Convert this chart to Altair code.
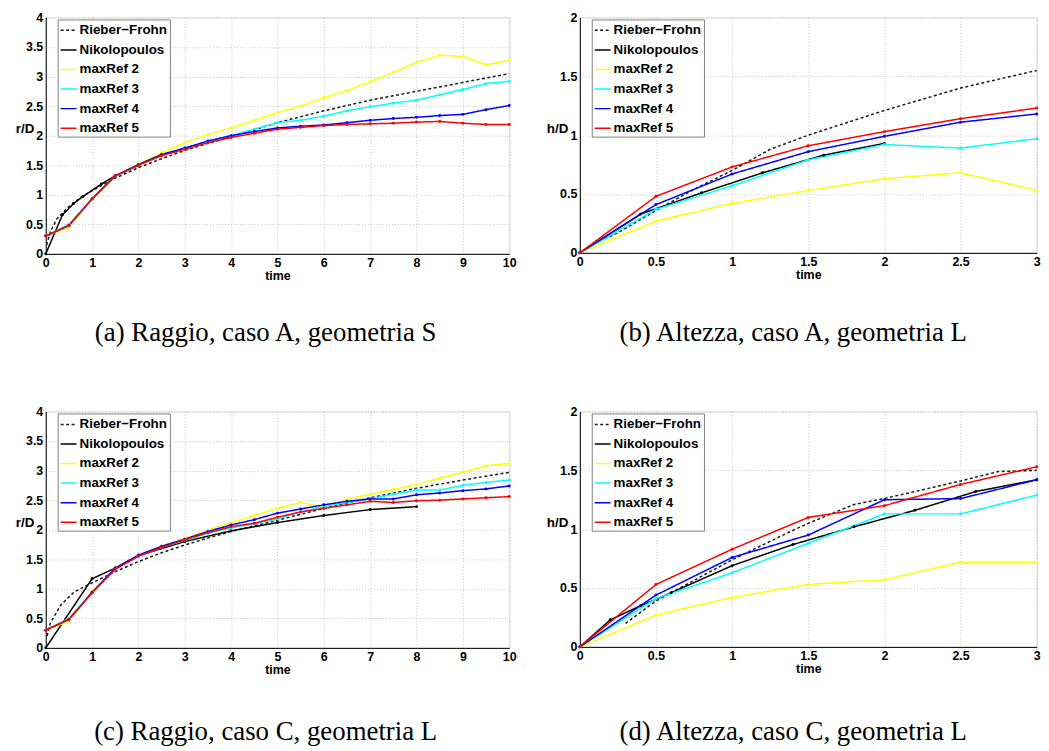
import altair as alt
import pandas as pd

# ---------------- data ----------------
SERIES = ["Rieber−Frohn", "Nikolopoulos", "maxRef 2", "maxRef 3", "maxRef 4", "maxRef 5"]
COLORS = ["#1a1a1a", "#000000", "#FFFF00", "#00FFFF", "#0000FF", "#FF0000"]

# (a) Raggio, caso A, geometria S
t_ref_a = [0, 0.5, 1, 1.5, 2, 2.5, 3, 3.5, 4, 4.5, 5, 5.5, 6, 6.5, 7, 7.5, 8, 8.5, 9, 9.5, 10]
m2_a = [0.30, 0.45, 0.93, 1.32, 1.52, 1.71, 1.88, 2.02, 2.13, 2.26, 2.39, 2.50, 2.64, 2.76, 2.91, 3.07, 3.24, 3.36, 3.34, 3.20, 3.27]
m3_a = [0.30, 0.50, 0.93, 1.32, 1.51, 1.68, 1.79, 1.90, 2.00, 2.11, 2.22, 2.26, 2.33, 2.42, 2.49, 2.55, 2.60, 2.69, 2.78, 2.88, 2.92]
m4_a = [0.30, 0.48, 0.93, 1.32, 1.51, 1.68, 1.79, 1.91, 2.00, 2.07, 2.13, 2.16, 2.18, 2.22, 2.26, 2.29, 2.31, 2.34, 2.36, 2.44, 2.51]
m5_a = [0.30, 0.48, 0.93, 1.32, 1.50, 1.66, 1.77, 1.88, 1.97, 2.04, 2.11, 2.14, 2.17, 2.19, 2.20, 2.21, 2.23, 2.24, 2.21, 2.19, 2.19]
t_nik_a = [0, 0.36, 0.6, 0.8, 1.2, 1.5, 2.0]
nik_a = [0, 0.66, 0.85, 0.97, 1.18, 1.32, 1.50]
t_rf_a = [0.02, 0.1, 0.25, 0.5, 0.75, 1, 1.5, 2, 2.5, 3, 3.5, 4, 5, 6, 7, 8, 9, 10]
rf_a = [0.15, 0.38, 0.60, 0.80, 0.95, 1.07, 1.28, 1.46, 1.61, 1.75, 1.87, 1.98, 2.22, 2.42, 2.60, 2.75, 2.90, 3.05]

# (b) Altezza, caso A, geometria L
t_ref_b = [0, 0.5, 1, 1.5, 2, 2.5, 3]
m2_b = [0, 0.27, 0.42, 0.53, 0.63, 0.68, 0.53]
m3_b = [0, 0.37, 0.57, 0.79, 0.92, 0.89, 0.97]
m4_b = [0, 0.41, 0.67, 0.86, 0.99, 1.11, 1.18]
m5_b = [0, 0.48, 0.73, 0.91, 1.03, 1.14, 1.23]
t_nik_b = [0, 0.4, 0.8, 1.2, 1.6, 2.0]
nik_b = [0, 0.33, 0.51, 0.68, 0.83, 0.93]
t_rf_b = [0.13, 0.25, 0.5, 0.75, 1, 1.25, 1.5, 2, 2.5, 3]
rf_b = [0.10, 0.17, 0.36, 0.54, 0.70, 0.88, 1.00, 1.21, 1.40, 1.55]

# (c) Raggio, caso C, geometria L
t_ref_c = [0, 0.5, 1, 1.5, 2, 2.5, 3, 3.5, 4, 4.5, 5, 5.5, 6, 6.5, 7, 7.5, 8, 8.5, 9, 9.5, 10]
m2_c = [0.30, 0.45, 0.95, 1.35, 1.56, 1.72, 1.85, 1.99, 2.12, 2.24, 2.36, 2.46, 2.38, 2.52, 2.60, 2.68, 2.77, 2.87, 2.97, 3.08, 3.12]
m3_c = [0.30, 0.50, 0.94, 1.34, 1.55, 1.70, 1.82, 1.94, 2.03, 2.10, 2.18, 2.30, 2.39, 2.46, 2.52, 2.60, 2.67, 2.67, 2.75, 2.80, 2.84]
m4_c = [0.30, 0.48, 0.94, 1.35, 1.57, 1.72, 1.84, 1.97, 2.08, 2.17, 2.28, 2.35, 2.42, 2.48, 2.52, 2.52, 2.59, 2.62, 2.66, 2.69, 2.74]
m5_c = [0.30, 0.48, 0.93, 1.33, 1.55, 1.70, 1.83, 1.95, 2.05, 2.11, 2.21, 2.30, 2.36, 2.42, 2.48, 2.46, 2.49, 2.50, 2.52, 2.54, 2.56]
t_nik_c = [0, 1, 1.5, 2, 3, 4, 5, 6, 7, 8]
nik_c = [0, 1.17, 1.35, 1.56, 1.80, 1.98, 2.12, 2.24, 2.34, 2.39]
t_rf_c = [0.03, 0.1, 0.33, 0.62, 1, 1.5, 2, 2.5, 3, 3.5, 4, 5, 6, 7, 8, 9, 10]
rf_c = [0.20, 0.42, 0.73, 0.95, 1.10, 1.29, 1.46, 1.61, 1.74, 1.86, 1.97, 2.16, 2.36, 2.54, 2.70, 2.84, 2.97]

# (d) Altezza, caso C, geometria L
t_ref_d = [0, 0.5, 1, 1.5, 2, 2.5, 3]
m2_d = [0, 0.27, 0.42, 0.53, 0.57, 0.72, 0.72]
m3_d = [0, 0.41, 0.63, 0.88, 1.13, 1.13, 1.29]
m4_d = [0, 0.44, 0.76, 0.95, 1.25, 1.26, 1.42]
m5_d = [0, 0.53, 0.83, 1.10, 1.20, 1.38, 1.53]
t_nik_d = [0, 0.2, 0.4, 0.6, 1.0, 1.4, 1.8, 2.2, 2.6, 3.0]
nik_d = [0, 0.23, 0.35, 0.46, 0.69, 0.87, 1.02, 1.16, 1.32, 1.42]
t_rf_d = [0.3, 0.5, 0.7, 1, 1.35, 1.5, 1.8, 2, 2.5, 2.75, 3]
rf_d = [0.20, 0.39, 0.53, 0.74, 0.96, 1.05, 1.21, 1.26, 1.41, 1.49, 1.50]

CAPTIONS = ["(a) Raggio, caso A, geometria S", "(b) Altezza, caso A, geometria L",
            "(c) Raggio, caso C, geometria L", "(d) Altezza, caso C, geometria L"]

SANS = "Liberation Sans"


def make_df(t_rf, rf, t_nik, nik, t_ref, m2, m3, m4, m5):
    rows = []
    for t, v in zip(t_rf, rf):
        rows.append((SERIES[0], t, v))
    for t, v in zip(t_nik, nik):
        rows.append((SERIES[1], t, v))
    for name, vals in zip(SERIES[2:], [m2, m3, m4, m5]):
        for t, v in zip(t_ref, vals):
            rows.append((name, t, v))
    return pd.DataFrame(rows, columns=["series", "t", "v"])


def panel(df, xmax, xticks, ymax, yticks, ytitle, caption, w, h, cap_offset):
    legend = alt.Legend(
        title=None, orient="none", legendX=12, legendY=2,
        fillColor="white", strokeColor="#808080", padding=2,
        symbolType="stroke", symbolSize=256, symbolStrokeWidth=1.5,
        labelFont=SANS, labelFontWeight="bold", labelFontSize=13.5,
        labelColor="black", labelOffset=2, rowPadding=3.7,
    )
    xenc = alt.X("t:Q", scale=alt.Scale(domain=[0, xmax], nice=False, zero=False),
                 axis=alt.Axis(values=xticks, format=".2~f", title="time",
                               titleFont=SANS, titleFontWeight="bold", titleFontSize=12.5,
                               titlePadding=0, titleColor="black",
                               labelFont=SANS, labelFontWeight="bold", labelFontSize=12.5,
                               labelColor="black", labelPadding=3, ticks=False,
                               labelFlush=False, labelOverlap=False,
                               domainColor="black", domainWidth=1,
                               gridColor="#b5b5b5", gridDash=[1, 2], gridWidth=0.8))
    yenc = alt.Y("v:Q", scale=alt.Scale(domain=[0, ymax], nice=False),
                 axis=alt.Axis(values=yticks, format=".2~f", title=ytitle,
                               titleAngle=0, titleAlign="right", titleBaseline="middle",
                               titleX=-12, titleY=h / 2 - 7,
                               titleFont=SANS, titleFontWeight="bold", titleFontSize=13.5,
                               titleColor="black",
                               labelFont=SANS, labelFontWeight="bold", labelFontSize=12.5,
                               labelColor="black", labelPadding=3, ticks=False,
                               labelFlush=False, labelOverlap=False,
                               domainColor="black", domainWidth=1,
                               gridColor="#b5b5b5", gridDash=[1, 2], gridWidth=0.8))
    cscale = alt.Scale(domain=SERIES, range=COLORS)
    dscale = alt.Scale(domain=SERIES, range=[[3, 2.5], [1, 0], [1, 0], [1, 0], [1, 0], [1, 0]])
    base = alt.Chart(df)
    lines = base.mark_line(strokeWidth=1.5).encode(
        x=xenc, y=yenc,
        color=alt.Color("series:N", scale=cscale, legend=legend),
        strokeDash=alt.StrokeDash("series:N", scale=dscale, legend=legend),
    )
    pts = base.transform_filter(alt.datum.series != SERIES[0]).mark_circle(size=9, opacity=1).encode(
        x=xenc, y=yenc,
        color=alt.Color("series:N", scale=cscale, legend=None),
    )
    return alt.layer(lines, pts).properties(
        width=w, height=h,
        title=alt.TitleParams(text=caption, orient="bottom", anchor="middle", frame="bounds",
                              font="Liberation Serif", fontSize=27, fontWeight="normal",
                              color="black", baseline="middle", offset=cap_offset),
    )


df_a = make_df(t_rf_a, rf_a, t_nik_a, nik_a, t_ref_a, m2_a, m3_a, m4_a, m5_a)
df_b = make_df(t_rf_b, rf_b, t_nik_b, nik_b, t_ref_b, m2_b, m3_b, m4_b, m5_b)
df_c = make_df(t_rf_c, rf_c, t_nik_c, nik_c, t_ref_c, m2_c, m3_c, m4_c, m5_c)
df_d = make_df(t_rf_d, rf_d, t_nik_d, nik_d, t_ref_d, m2_d, m3_d, m4_d, m5_d)

xt10 = list(range(0, 11))
xt3 = [0, 0.5, 1, 1.5, 2, 2.5, 3]
yt4 = [0, 0.5, 1, 1.5, 2, 2.5, 3, 3.5, 4]
yt2 = [0, 0.5, 1, 1.5, 2]

pa = panel(df_a, 10, xt10, 4, yt4, "r/D", CAPTIONS[0], 466.6, 238, 52)
pb = panel(df_b, 3, xt3, 2, yt2, "h/D", CAPTIONS[1], 460, 237, 53)
pc = panel(df_c, 10, xt10, 4, yt4, "r/D", CAPTIONS[2], 466.6, 238, 57)
pd_ = panel(df_d, 3, xt3, 2, yt2, "h/D", CAPTIONS[3], 460, 237, 58)

chart = alt.concat(pa, pb, pc, pd_, columns=2, bounds="flush",
                   spacing={"row": 158.7, "column": 70.7}).resolve_scale(
    color="independent", strokeDash="independent", x="independent", y="independent",
).resolve_legend(color="independent", strokeDash="independent").properties(
    autosize=alt.AutoSizeParams(type="pad"),
    padding={"left": 6, "top": 0, "right": 0, "bottom": 0},
).configure_view(stroke="transparent").configure(background="white")

chart.save("out.html", embed_options={"renderer": "svg", "actions": False})
